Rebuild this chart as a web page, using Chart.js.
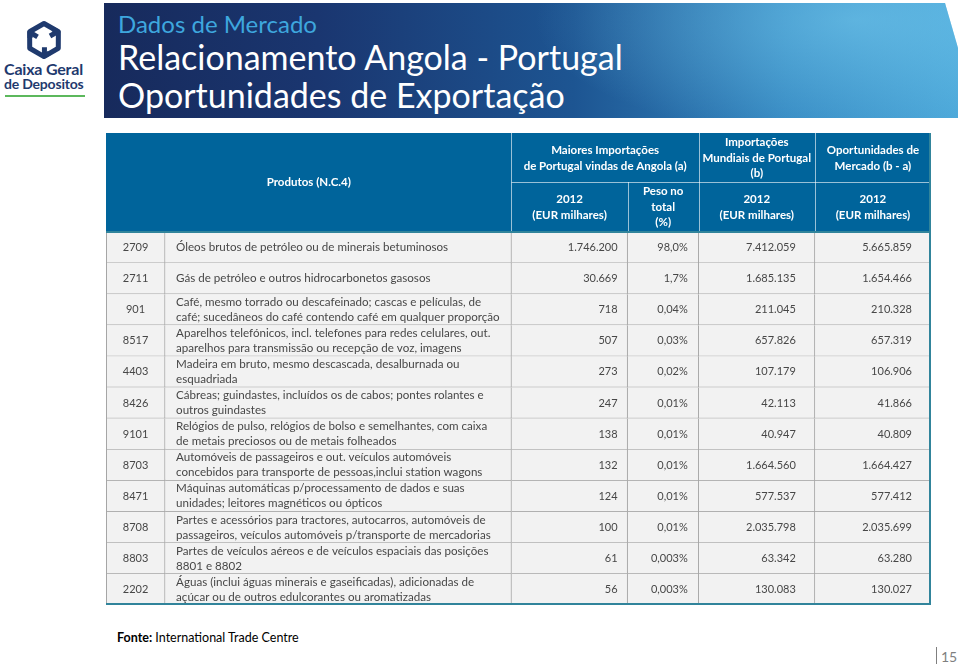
<!DOCTYPE html>
<html>
<head>
<meta charset="utf-8">
<title>Oportunidades de Exportação</title>
<script src="https://cdn.jsdelivr.net/npm/chart.js@4.4.1/dist/chart.umd.min.js"></script>
<style>
  body { margin: 0; width: 960px; height: 665px; background: #fff; position: relative; overflow: hidden; font-family: Lato, sans-serif; }
  #banner {
    position: absolute; left: 104px; top: 3px; width: 854px; height: 115px;
    clip-path: polygon(0 0, 841px 0, 854px 45px, 854px 115px, 0 115px);
    background:
      radial-gradient(ellipse 320px 120px at 88% 15%, rgba(120, 205, 240, 0.55), rgba(120, 205, 240, 0) 100%),
      linear-gradient(90deg, #172a5c 0%, #1a3670 25%, #1d5592 55%, #3589c2 80%, #4aa6d8 100%);
  }
  .t { position: absolute; left: 118px; white-space: nowrap; line-height: 1; }
  #t1 { top: 12px; font-size: 24px; color: #3ea7de; }
  #t2 { top: 40px; font-size: 34px; color: #fff; }
  #t3 { top: 78px; font-size: 34px; color: #fff; }
  .logo { position: absolute; left: 4px; color: #1f3a6e; font-weight: bold; line-height: 1; white-space: nowrap; }
  #logo1 { top: 61px; font-size: 16px; letter-spacing: -0.2px; }
  #logo2 { top: 77px; font-size: 14px; letter-spacing: -0.2px; }
  #logoLine { position: absolute; left: 5px; top: 95px; width: 80px; height: 2px; background: #5cb85c; }
  #wrap { position: absolute; left: 105px; top: 132px; width: 826px; height: 473px; }
  #fonte { position: absolute; left: 117px; top: 632px; font-size: 12.5px; line-height: 1; color: #000; }
  #pg { position: absolute; left: 941px; top: 650px; font-size: 14px; line-height: 1; color: #7f7f7f; }
  #pgLine { position: absolute; left: 936px; top: 647px; width: 1px; height: 17px; background: #7f7f7f; }
</style>
</head>
<body>
<div id="banner"></div>
<div class="t" id="t1">Dados de Mercado</div>
<div class="t" id="t2">Relacionamento Angola - Portugal</div>
<div class="t" id="t3">Oportunidades de Exportação</div>

<svg width="90" height="60" style="position:absolute;left:0;top:0">
  <defs>
    <path id="link" d="M-14,-2 L-14,-8.5 L0,-16.5 L14,-8.5 L6,-4" />
  </defs>
  <g transform="translate(44,40)" fill="none" stroke="#1f3a6e" stroke-width="5" stroke-linejoin="round">
    <use href="#link" />
    <use href="#link" transform="rotate(120)" />
    <use href="#link" transform="rotate(240)" />
  </g>
</svg>
<div class="logo" id="logo1">Caixa Geral</div>
<div class="logo" id="logo2">de Depositos</div>
<div id="logoLine"></div>

<div id="wrap"><canvas id="table"></canvas></div>

<div id="fonte"><b>Fonte:</b> International Trade Centre</div>
<div id="pgLine"></div>
<div id="pg">15</div>

<script>
// Données du tableau
const codes = ['2709', '2711', '901', '8517', '4403', '8426', '9101', '8703', '8471', '8708', '8803', '2202'];
const products = [
    ['Óleos brutos de petróleo ou de minerais betuminosos'],
    ['Gás de petróleo e outros hidrocarbonetos gasosos'],
    ['Café, mesmo torrado ou descafeinado; cascas e películas, de', 'café; sucedâneos do café contendo café em qualquer proporção'],
    ['Aparelhos telefónicos, incl. telefones para redes celulares, out.', 'aparelhos para transmissão ou recepção de voz, imagens'],
    ['Madeira em bruto, mesmo descascada, desalburnada ou', 'esquadriada'],
    ['Cábreas; guindastes, incluídos os de cabos; pontes rolantes e', 'outros guindastes'],
    ['Relógios de pulso, relógios de bolso e semelhantes, com caixa', 'de metais preciosos ou de metais folheados'],
    ['Automóveis de passageiros e out. veículos automóveis', 'concebidos para transporte de pessoas,inclui station wagons'],
    ['Máquinas automáticas p/processamento de dados e suas', 'unidades; leitores magnéticos ou ópticos'],
    ['Partes e acessórios para tractores, autocarros, automóveis de', 'passageiros, veículos automóveis p/transporte de mercadorias'],
    ['Partes de veículos aéreos e de veículos espaciais das posições', '8801 e 8802'],
    ['Águas (inclui águas minerais e gaseificadas), adicionadas de', 'açúcar ou de outros edulcorantes ou aromatizadas']
];
const importsAngola = [1746200, 30669, 718, 507, 273, 247, 138, 132, 124, 100, 61, 56];
const shareTotal = [98.0, 1.7, 0.04, 0.03, 0.02, 0.01, 0.01, 0.01, 0.01, 0.01, 0.003, 0.003];
const worldImports = [7412059, 1685135, 211045, 657826, 107179, 42113, 40947, 1664560, 577537, 2035798, 63342, 130083];
const opportunities = [5665859, 1654466, 210328, 657319, 106906, 41866, 40809, 1664427, 577412, 2035699, 63280, 130027];

// En-têtes (colonne de début, colonne de fin, lignes)
const headerTop = [
    { from: 2, to: 4, lines: ['Maiores Importações', 'de Portugal vindas de Angola (a)'] },
    { from: 4, to: 5, lines: ['Importações', 'Mundiais de Portugal', '(b)'] },
    { from: 5, to: 6, lines: ['Oportunidades de', 'Mercado (b - a)'] }
];
const headerSub = [
    { from: 2, to: 3, lines: ['2012', '(EUR milhares)'] },
    { from: 3, to: 4, lines: ['Peso no', 'total', '(%)'] },
    { from: 4, to: 5, lines: ['2012', '(EUR milhares)'] },
    { from: 5, to: 6, lines: ['2012', '(EUR milhares)'] }
];
const headerProducts = 'Produtos (N.C.4)';

// Mise en page
const colEdges = [0, 59, 405, 521, 592, 708, 824];
const HEADER_H = 99;
const HEADER_SPLIT = 49;
const HEADER_BG = '#00649b';
const CELL_BG = '#f2f2f2';
const GRID = '#a6a6a6';
const FRAME = '#31849b';
const TEXT = '#474747';

const fmtThousands = v => String(v).replace(/\B(?=(\d{3})+(?!\d))/g, '.');
const fmtShare = v => (v >= 10 ? v.toFixed(1) : String(v)).replace('.', ',') + '%';

// Colonnes de valeurs : tableau, formateur, marge droite
const valueCols = [
    { values: importsAngola, fmt: fmtThousands, pad: 10 },
    { values: shareTotal, fmt: fmtShare, pad: 11 },
    { values: worldImports, fmt: fmtThousands, pad: 19 },
    { values: opportunities, fmt: fmtThousands, pad: 19 }
];

function drawLines(ctx, lines, cx, cy, step) {
    const y0 = cy - (lines.length - 1) * step / 2;
    lines.forEach((l, i) => ctx.fillText(l, cx, y0 + i * step));
}

const tablePlugin = {
    id: 'tableGrid',
    beforeDatasetsDraw(chart) {
        const { ctx, chartArea } = chart;
        const x = chart.scales.x;
        const px = v => x.getPixelForValue(v);
        const top = chartArea.top - HEADER_H;
        const mid = top + HEADER_SPLIT;
        const bottom = chartArea.top;

        ctx.save();
        ctx.fillStyle = HEADER_BG;
        ctx.fillRect(px(0), top, px(colEdges[6]) - px(0), HEADER_H);

        // séparateurs de l'en-tête
        ctx.strokeStyle = 'rgba(255,255,255,0.6)';
        ctx.lineWidth = 1;
        ctx.beginPath();
        [2, 4, 5].forEach(c => {
            const xx = Math.round(px(colEdges[c])) + 0.5;
            ctx.moveTo(xx, top); ctx.lineTo(xx, bottom);
        });
        const x3 = Math.round(px(colEdges[3])) + 0.5;
        ctx.moveTo(x3, mid); ctx.lineTo(x3, bottom);
        ctx.moveTo(px(colEdges[2]), mid + 0.5); ctx.lineTo(px(colEdges[6]), mid + 0.5);
        ctx.stroke();

        // textes de l'en-tête
        ctx.fillStyle = '#fff';
        ctx.font = 'bold 11.5px Lato';
        ctx.textAlign = 'center';
        ctx.textBaseline = 'middle';
        drawLines(ctx, [headerProducts], (px(colEdges[0]) + px(colEdges[2])) / 2, (top + bottom) / 2, 16);
        headerTop.forEach(h => {
            drawLines(ctx, h.lines, (px(colEdges[h.from]) + px(colEdges[h.to])) / 2, (top + mid) / 2 + 0.5, 15.7);
        });
        headerSub.forEach(h => {
            drawLines(ctx, h.lines, (px(colEdges[h.from]) + px(colEdges[h.to])) / 2, (mid + bottom) / 2, 15.7);
        });
        ctx.restore();
    },
    afterDatasetsDraw(chart) {
        const { ctx, chartArea } = chart;
        const x = chart.scales.x;
        const y = chart.scales.y;
        const px = v => x.getPixelForValue(v);

        ctx.save();
        ctx.fillStyle = TEXT;
        ctx.textBaseline = 'middle';
        codes.forEach((code, i) => {
            const cy = y.getPixelForValue(i);
            ctx.font = '11px Lato';
            ctx.textAlign = 'center';
            ctx.fillText(code, (px(colEdges[0]) + px(colEdges[1])) / 2, cy);
            ctx.textAlign = 'right';
            valueCols.forEach((col, k) => {
                ctx.fillText(col.fmt(col.values[i]), px(colEdges[k + 3]) - col.pad, cy);
            });
            ctx.font = '11.6px Lato';
            ctx.textAlign = 'left';
            drawLines(ctx, products[i], px(colEdges[1]) + 11, cy, 15);
        });

        // cadre
        ctx.strokeStyle = GRID;
        ctx.lineWidth = 1;
        ctx.beginPath();
        ctx.moveTo(chartArea.left + 0.5, chartArea.top);
        ctx.lineTo(chartArea.left + 0.5, chartArea.bottom);
        ctx.stroke();
        ctx.strokeStyle = FRAME;
        ctx.lineWidth = 2;
        ctx.beginPath();
        ctx.moveTo(chartArea.left, chartArea.top);
        ctx.lineTo(chartArea.right, chartArea.top);
        ctx.moveTo(chartArea.left, chartArea.bottom - 1);
        ctx.lineTo(chartArea.right - 1, chartArea.bottom - 1);
        ctx.lineTo(chartArea.right - 1, chartArea.top - HEADER_H);
        ctx.stroke();
        ctx.restore();
    }
};

// une série de barres flottantes par colonne = les cellules
const cellDatasets = colEdges.slice(0, -1).map((start, c) => ({
    data: codes.map(() => [start, colEdges[c + 1]]),
    backgroundColor: CELL_BG,
    borderColor: GRID,
    borderWidth: { top: 0, left: 0, right: 1, bottom: 1 },
    borderSkipped: false,
    grouped: false,
    barPercentage: 1,
    categoryPercentage: 1
}));

new Chart(document.getElementById('table'), {
    type: 'bar',
    data: { labels: codes, datasets: cellDatasets },
    options: {
        indexAxis: 'y',
        responsive: true,
        maintainAspectRatio: false,
        animation: false,
        events: [],
        layout: { padding: { top: HEADER_H + 1, left: 1, right: 0, bottom: 0 } },
        plugins: { legend: { display: false }, tooltip: { enabled: false } },
        scales: {
            x: { type: 'linear', min: colEdges[0], max: colEdges[colEdges.length - 1], display: false },
            y: { type: 'category', offset: true, display: false }
        }
    },
    plugins: [tablePlugin]
});
</script>
</body>
</html>
